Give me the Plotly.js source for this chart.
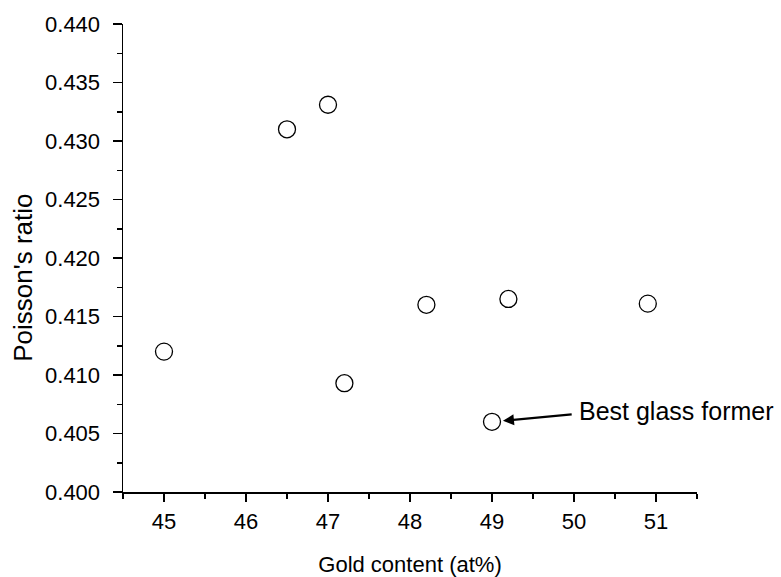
<!DOCTYPE html>
<html>
<head>
<meta charset="utf-8">
<script src="https://cdn.plot.ly/plotly-3.0.1.min.js"></script>
<style>html,body{margin:0;padding:0;background:#fff;}#chart{width:781px;height:577px;}</style>
</head>
<body>
<div id="chart"></div>
<script>
const goldContent = [45, 46.5, 47, 47.2, 48.2, 49, 49.2, 50.9];
const poissonRatio = [0.412, 0.431, 0.4331, 0.4093, 0.416, 0.406, 0.4165, 0.4161];
const bestX = 49, bestY = 0.406;
const labelText = "Best glass former";
const xTitle = "Gold content (at%)";
const yTitle = "Poisson's ratio";

const fontFam = 'Arial, "Liberation Sans", Helvetica, sans-serif';
const trace = {
  x: goldContent, y: poissonRatio, type: 'scatter', mode: 'markers',
  marker: {symbol: 'circle-open', size: 17, color: '#000', line: {width: 1.3, color: '#000'}},
  cliponaxis: false, showlegend: false
};
const layout = {
  width: 781, height: 577,
  margin: {l: 123, r: 84, t: 24, b: 85},
  paper_bgcolor: '#fff', plot_bgcolor: '#fff',
  font: {family: fontFam, size: 22, color: '#000'},
  xaxis: {
    range: [44.5, 51.5], dtick: 1, tick0: 45, showgrid: false, zeroline: false,
    showline: true, linecolor: '#000', linewidth: 1.5,
    ticks: 'outside', ticklen: 8, tickwidth: 1.5, tickcolor: '#000',
    minor: {dtick: 0.5, tick0: 44.5, ticks: 'outside', ticklen: 5, tickwidth: 1.5, tickcolor: '#000', showgrid: false},
    tickfont: {size: 22}, ticklabelstandoff: 1,
    title: {text: xTitle, font: {size: 22}, standoff: 24}
  },
  yaxis: {
    range: [0.400, 0.440], dtick: 0.005, tick0: 0.4, tickformat: '.3f', showgrid: false, zeroline: false,
    showline: true, linecolor: '#000', linewidth: 1.5,
    ticks: 'outside', ticklen: 9, tickwidth: 1.5, tickcolor: '#000',
    minor: {dtick: 0.0025, tick0: 0.4, ticks: 'outside', ticklen: 5, tickwidth: 1.5, tickcolor: '#000', showgrid: false},
    tickfont: {size: 22}, ticklabelstandoff: 8
  },
  annotations: [
    {x: bestX, y: bestY, xref: 'x', yref: 'y', axref: 'x', ayref: 'y', ax: 49.99, ay: 0.40665,
     text: '', showarrow: true, arrowhead: 2, arrowsize: 1, arrowwidth: 2.2, arrowcolor: '#000', standoff: 11},
    {x: 50.04, y: 0.4069, xref: 'x', yref: 'y', text: labelText, showarrow: false,
     xanchor: 'left', yanchor: 'middle', font: {size: 25, color: '#000'}},
    {x: -0.174, y: 0.458, xref: 'paper', yref: 'paper', text: yTitle, showarrow: false, textangle: -90,
     xanchor: 'center', yanchor: 'middle', font: {size: 26, color: '#000'}}
  ]
};
Plotly.newPlot('chart', [trace], layout, {displayModeBar: false, staticPlot: true});
</script>
</body>
</html>
